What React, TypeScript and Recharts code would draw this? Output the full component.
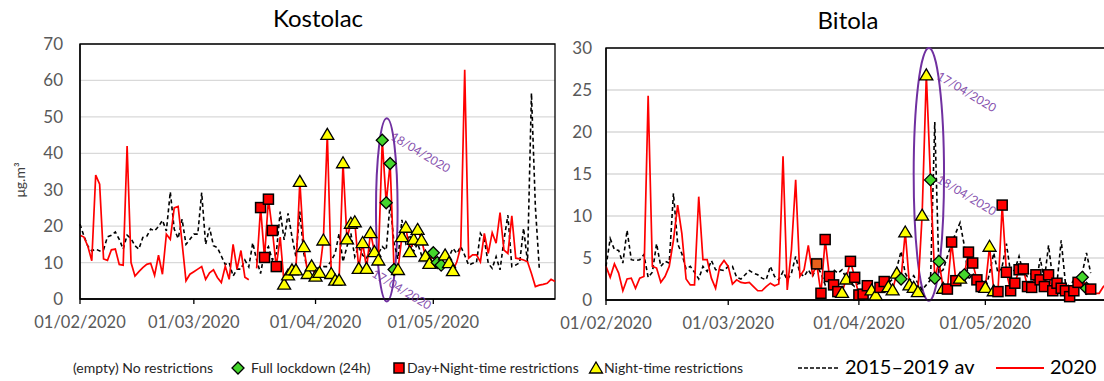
import { ComposedChart, Line, XAxis, YAxis, CartesianGrid, ReferenceArea, ReferenceDot } from 'recharts';

// Daily NO2 at two stations, Feb–May 2020 vs the 2015–2019 average.
// x is the day index counted from 01/02/2020.

const tickDays = [0, 29, 60, 90];
const tickLabels = ['01/02/2020', '01/03/2020', '01/04/2020', '01/05/2020'];

const kostolacYTicks = [0, 10, 20, 30, 40, 50, 60, 70];
const bitolaYTicks = [0, 5, 10, 15, 20, 25, 30];

const kostolac2020: (number | null)[] = [
    17.5, 17, 14.5, 10.5, 34, 31.5, 11, 10.6, 13.5, 13.7, 9.5, 9.3, 42, 10, 6.3, 7.5, 8.6, 9.5, 9.8, 6.5,
    12, 6.8, 17.8, 16.4, 25, 25.4, 15.5, 5, 6.8, 7.5, 8.2, 8.9, 5.4, 7.2, 8, 5.9, 4.5, 9, 5.4, 15,
    8.2, 13.3, 6, 5.3, null, 8.4, 25.1, 11.4, 27.4, 18.8, 8.9, 17, 4.1, 6.6, 8, 8, 32.3, 14.4, 7, 9.1,
    6.3, 7.3, 16.2, 45.2, 7, 5.2, 5.2, 37.4, 16.5, 20.8, 21.2, 8.4, 15.5, 8.4, 18.2, 13, 10.7, 43.6, 26.4, 37.2,
    8.1, 8.1, 17.1, 19.7, 13, 16.4, 19.1, 16.2, 11.8, 9.8, 12.7, 10, 9.3, 12.1, 10, 7.8, 10.2, 14.4, 62.9, 11.2,
    12.1, 12.1, 10.2, 18, 12.5, 18.2, 15.3, 23.7, 13.4, 12.5, 22.8, 11.2, 11, 10.7, 10.2, 7, 3.4, 3.8, 4, 4.3,
    5.4, 4.8,
];

const kostolacAvg: number[] = [
    20.5, 17.3, 14.5, 13.2, 13.7, 13.2, 13.5, 17.1, 17.5, 18.4, 16.4, 13.7, 17.5, 16.6, 14.6, 13.7, 16.9, 17.2, 19.2, 18.7,
    19.9, 21.6, 18.7, 29.4, 19.2, 16.6, 21.9, 15, 16.4, 17.8, 17.8, 29.2, 15, 19.6, 14.6, 14.1, 11.8, 9.5, 10, 6.3,
    8.2, 8.2, 10.7, 8.8, 15.4, 10.7, 7, 12.9, 14.4, 10.7, 12.5, 24, 16.2, 23.5, 17.1, 11.6, 24, 12.5, 8, 8.9,
    8.4, 8.6, 8.9, 8.9, 10.5, 12.5, 18, 10.2, 14.4, 18, 11.6, 14.4, 12, 11.2, 13.9, 13.4, 12.5, 14.4, 13.4, 26.3,
    15.3, 11, 21.7, 15.3, 17.6, 13, 15.3, 12, 10.7, 11.6, 10.2, 10.7, 11.5, 12, 11.6, 13.9, 12.5, 14.4, 12, 9.3,
    9.8, 10, 18, 16.2, 9.8, 8.4, 11.6, 8, 16.2, 23, 8.9, 9.3, 10, 19.4, 10.2, 56.5, 25.3, 8.4,
];

const bitola2020: (number | null)[] = [
    4, 2.7, 4.3, 3.2, 1.1, 2.5, 2.6, 1.4, 2.6, 2.8, 24.3, 4, 3.8, 2.1, 2.8, 4, 7.1, 11.3, 7.9, 2.5,
    1.8, 1.8, 12.3, 4.8, 4.8, 2.6, 1.4, 4, 4.7, 4, 1.9, 2.4, 2.1, 2, 2.1, 1.6, 1.1, 1.1, 1.6, 2,
    1.7, 1.9, 17.1, 1.2, 6, 14.3, 2.8, 3.6, 6.5, 3, 4.3, 0.8, 7.2, 2.8, 1.8, 1, 0.9, 2.5, 4.6, 2.7,
    0.6, 0.7, 1.7, 1.2, 0.6, 1.5, 2.2, 1.6, 1.2, 3.2, 2.5, 8.1, 1.8, 1.5, 1, 10.1, 26.8, 14.3, 2.6, 4.6,
    1.4, 1.3, 6.9, 2.3, 2.6, 3, 5.7, 4.4, 2.4, 1.6, 1.5, 6.4, 1.1, 1, 11.3, 3.3, 1.1, 2, 3.6, 3.7,
    1.6, 1.5, 3, 2.4, 1.6, 3, 1.1, 2, 1.4, 1.1, 0.4, 1.1, 2.1, 2.7, 1.4, 1.3, 0.8, 0.8, 1.6, 2,
    2.2, 2,
];

const bitolaAvg: number[] = [
    4, 7.3, 6, 5.9, 4.4, 8.3, 4.8, 4.7, 4.8, 5.4, 2.7, 3.3, 6.7, 4, 4.6, 4.4, 12.7, 6.7, 5.5, 3.7,
    4, 3.3, 2.5, 4, 3.4, 4.7, 3.6, 3.6, 3.5, 4, 4, 2.7, 2.5, 3, 3.5, 3.2, 3, 2.6, 2.4, 4,
    2.8, 2.4, 3.4, 2.4, 3.2, 5.2, 3.2, 2.8, 3.6, 2.8, 4, 3.2, 1.8, 2.4, 3.6, 3.2, 3.6, 2.6, 2, 1.6,
    2, 1.8, 1.4, 1.6, 2, 1.6, 2.4, 2, 2.5, 3.8, 5.8, 3.2, 2.3, 2.9, 2, 1.2, 1.8, 2.4, 21.2, 3.2,
    3.6, 5.2, 6.7, 8, 9.2, 6.5, 2.4, 3.2, 2.4, 2.6, 1.2, 3.2, 5.6, 3.2, 4, 6.7, 3.2, 3.6, 5.2, 3.2,
    2.8, 3.2, 1.6, 5, 2.4, 6.5, 2.4, 2, 7.1, 2, 1.6, 2.4, 1.8, 3.2, 5.6, 3.2,
];

// restriction periods: [first day, last day, code]
// F = full lockdown, D = day+night-time, N = night-time, O = first (orange) day in Bitola
const kostolacPeriods: [number, number, string][] = [
    [46, 50, 'D'], [52, 76, 'N'], [77, 80, 'F'], [81, 89, 'N'], [90, 92, 'F'], [93, 95, 'N'],
];
const bitolaPeriods: [number, number, string][] = [
    [50, 50, 'O'], [51, 55, 'D'], [56, 57, 'N'], [58, 62, 'D'], [63, 64, 'N'], [65, 66, 'D'],
    [67, 69, 'N'], [70, 70, 'F'], [71, 76, 'N'], [77, 79, 'F'], [80, 80, 'N'], [81, 83, 'D'],
    [84, 84, 'N'], [85, 85, 'F'], [86, 89, 'D'], [90, 92, 'N'], [93, 112, 'D'], [113, 114, 'F'],
    [115, 115, 'D'],
];

const FONT = 'Lato, "Liberation Sans", sans-serif';
const RED = '#FF0000';
const GREEN = '#44D62C';
const YELLOW = '#FFFF00';
const ORANGE = '#E8601C';
const PURPLE = '#7030A0';
const AXIS_TEXT = '#595959';

function buildRows(values: (number | null)[], avg: number[], periods: [number, number, string][]) {
    return values.map((v, day) => ({
        day,
        value: v,
        avg: avg[day] ?? null,
        code: periods.find(([a, b]) => day >= a && day <= b)?.[2] ?? '',
    }));
}

const kostolacRows = buildRows(kostolac2020, kostolacAvg, kostolacPeriods);
const bitolaRows = buildRows(bitola2020, bitolaAvg, bitolaPeriods);

function Marker({ code, cx, cy }: { code: string; cx: number; cy: number }) {
    if (code === 'F') {
        return <path d={`M${cx},${cy - 6}L${cx + 6},${cy}L${cx},${cy + 6}L${cx - 6},${cy}Z`} fill={GREEN} stroke="#000" strokeWidth={1.3} />;
    }
    if (code === 'D' || code === 'O') {
        return <rect x={cx - 5} y={cy - 5} width={10} height={10} fill={code === 'O' ? ORANGE : RED} stroke="#000" strokeWidth={1.5} />;
    }
    if (code === 'N') {
        return <path d={`M${cx},${cy - 6}L${cx + 6.5},${cy + 5}L${cx - 6.5},${cy + 5}Z`} fill={YELLOW} stroke="#000" strokeWidth={1.3} />;
    }
    return null;
}

// eslint-disable-next-line @typescript-eslint/no-explicit-any
const renderDot = (p: any) => {
    const key = `dot-${p.index}`;
    if (p.cx == null || p.cy == null || p.payload?.value == null || !p.payload.code) return <g key={key} />;
    return (
        <g key={key}>
            <Marker code={p.payload.code} cx={p.cx} cy={p.cy} />
        </g>
    );
};

interface Note { x: number; y: number; text: string }

interface StationChartProps {
    rows: ReturnType<typeof buildRows>;
    width: number;
    height: number;
    top: number;
    yAxisWidth: number;
    yTicks: number[];
    yTickMargin: number;
    xAxisHeight: number;
    ellipse: { x1: number; x2: number; y1: number; y2: number };
    notes: Note[];
}

function StationChart({ rows, width, height, top, yAxisWidth, yTicks, yTickMargin, xAxisHeight, ellipse, notes }: StationChartProps) {
    const yMax = yTicks[yTicks.length - 1];
    return (
        <ComposedChart width={width} height={height} data={rows} margin={{ top, right: 5, left: 0, bottom: 0 }}>
            <CartesianGrid vertical={false} stroke="#D9D9D9" strokeWidth={1.3} />
            <XAxis
                dataKey="day"
                type="number"
                domain={[0, 121]}
                ticks={tickDays}
                interval={0}
                tickFormatter={(d: number) => tickLabels[tickDays.indexOf(d)] ?? ''}
                tick={{ fill: AXIS_TEXT, fontSize: 16.5, fontFamily: FONT }}
                tickSize={5}
                tickMargin={12}
                axisLine={{ stroke: '#000', strokeWidth: 1.3 }}
                tickLine={{ stroke: '#000', strokeWidth: 1.3 }}
                height={xAxisHeight}
            />
            <YAxis
                type="number"
                domain={[0, yMax]}
                ticks={yTicks}
                interval={0}
                width={yAxisWidth}
                tick={{ fill: AXIS_TEXT, fontSize: 17, fontFamily: FONT }}
                tickLine={false}
                tickSize={0}
                tickMargin={yTickMargin}
                axisLine={{ stroke: '#000', strokeWidth: 1.3 }}
            />
            <ReferenceArea x1={0} x2={121} y1={0} y2={yMax} fill="none" stroke="#000" strokeWidth={1.3} ifOverflow="visible" />
            <Line
                dataKey="avg"
                stroke="#000"
                strokeWidth={1.6}
                strokeDasharray="4 3"
                dot={false}
                activeDot={false}
                connectNulls={false}
                isAnimationActive={false}
            />
            <Line
                dataKey="value"
                stroke={RED}
                strokeWidth={1.7}
                dot={renderDot}
                activeDot={false}
                connectNulls={false}
                isAnimationActive={false}
            />
            <ReferenceArea
                x1={ellipse.x1}
                x2={ellipse.x2}
                y1={ellipse.y1}
                y2={ellipse.y2}
                ifOverflow="visible"
                // eslint-disable-next-line @typescript-eslint/no-explicit-any
                shape={(p: any) => (
                    <ellipse
                        cx={p.x + p.width / 2}
                        cy={p.y + p.height / 2}
                        rx={Math.abs(p.width) / 2}
                        ry={Math.abs(p.height) / 2}
                        fill="none"
                        stroke={PURPLE}
                        strokeWidth={2}
                    />
                )}
            />
            {notes.map((n) => (
                <ReferenceDot
                    key={n.text + n.y}
                    x={n.x}
                    y={n.y}
                    r={0}
                    ifOverflow="visible"
                    // eslint-disable-next-line @typescript-eslint/no-explicit-any
                    shape={(p: any) => (
                        <text
                            x={p.cx}
                            y={p.cy}
                            transform={`rotate(31 ${p.cx} ${p.cy})`}
                            textAnchor="middle"
                            dominantBaseline="central"
                            fill={PURPLE}
                            fontSize={12}
                            fontFamily={FONT}
                            opacity={0.85}
                        >
                            {n.text}
                        </text>
                    )}
                />
            ))}
        </ComposedChart>
    );
}

function LegendIcon({ code }: { code: string }) {
    return (
        <svg width={16} height={16} style={{ position: 'absolute', left: -8, top: -8 }}>
            <Marker code={code} cx={8} cy={8} />
        </svg>
    );
}

const smallText = { position: 'absolute' as const, top: 359, fontSize: 14, lineHeight: '18px', color: '#262626', whiteSpace: 'nowrap' as const };
const bigText = { position: 'absolute' as const, top: 353, fontSize: 20, lineHeight: '26px', color: '#000', whiteSpace: 'nowrap' as const };

export default function App() {
    return (
        <div style={{ position: 'fixed', left: 0, top: 0, width: 1104, height: 381, overflow: 'hidden', background: '#fff', fontFamily: FONT }}>
            <div style={{ position: 'absolute', left: 218, top: 3, width: 200, textAlign: 'center', fontSize: 24, color: '#000' }}>Kostolac</div>
            <div style={{ position: 'absolute', left: 748, top: 5, width: 200, textAlign: 'center', fontSize: 24, color: '#000' }}>Bitola</div>
            <div
                style={{
                    position: 'absolute',
                    left: 19,
                    top: 180,
                    transform: 'translate(-50%, -50%) rotate(-90deg)',
                    fontSize: 14,
                    color: '#404040',
                    whiteSpace: 'nowrap',
                }}
            >
                μg.m³
            </div>

            <div style={{ position: 'absolute', left: 0, top: 0 }}>
                <StationChart
                    rows={kostolacRows}
                    width={560}
                    height={340}
                    top={44}
                    yAxisWidth={80}
                    yTicks={kostolacYTicks}
                    yTickMargin={17}
                    xAxisHeight={41}
                    ellipse={{ x1: 75.4, x2: 80.9, y1: -0.7, y2: 49.6 }}
                    notes={[
                        { x: 86.8, y: 40.3, text: '18/04/2020' },
                        { x: 82, y: 2.7, text: '17/04/2020' },
                    ]}
                />
            </div>
            <div style={{ position: 'absolute', left: 560, top: 0 }}>
                <StationChart
                    rows={bitolaRows}
                    width={561}
                    height={340}
                    top={48}
                    yAxisWidth={46}
                    yTicks={bitolaYTicks}
                    yTickMargin={14}
                    xAxisHeight={40}
                    ellipse={{ x1: 73, x2: 80.2, y1: -0.1, y2: 30 }}
                    notes={[
                        { x: 85.6, y: 24.8, text: '17/04/2020' },
                        { x: 85.6, y: 12.5, text: '18/04/2020' },
                    ]}
                />
            </div>

            <div style={{ ...smallText, left: 73 }}>(empty) No restrictions</div>
            <div style={{ position: 'absolute', left: 238, top: 368 }}><LegendIcon code="F" /></div>
            <div style={{ ...smallText, left: 251 }}>Full lockdown (24h)</div>
            <div style={{ position: 'absolute', left: 399, top: 368 }}><LegendIcon code="D" /></div>
            <div style={{ ...smallText, left: 407 }}>Day+Night-time restrictions</div>
            <div style={{ position: 'absolute', left: 596, top: 368 }}><LegendIcon code="N" /></div>
            <div style={{ ...smallText, left: 604 }}>Night-time restrictions</div>
            <svg width={40} height={6} style={{ position: 'absolute', left: 798, top: 365 }}>
                <line x1={0} y1={3} x2={40} y2={3} stroke="#000" strokeWidth={1.5} strokeDasharray="4 2" />
            </svg>
            <div style={{ ...bigText, left: 845 }}>2015–2019 av</div>
            <svg width={48} height={6} style={{ position: 'absolute', left: 996, top: 365 }}>
                <line x1={0} y1={3} x2={48} y2={3} stroke={RED} strokeWidth={2} />
            </svg>
            <div style={{ ...bigText, left: 1050 }}>2020</div>
        </div>
    );
}
